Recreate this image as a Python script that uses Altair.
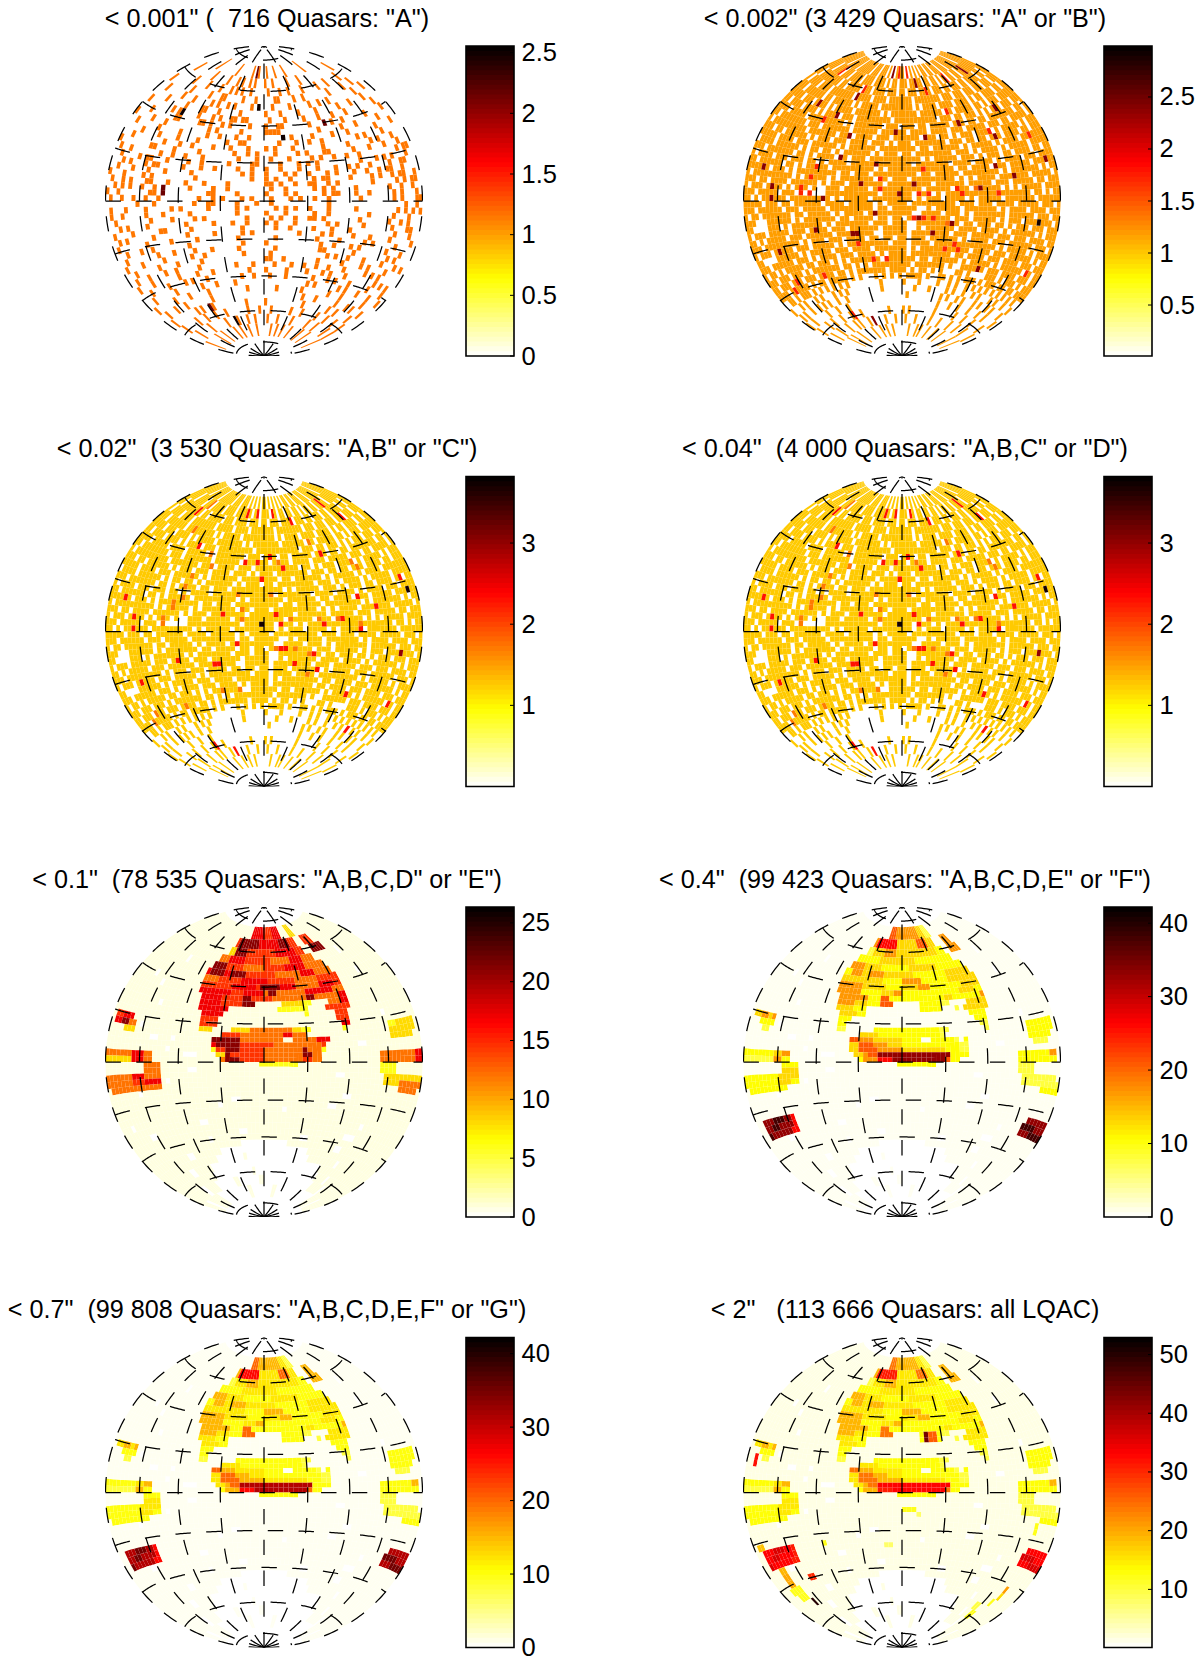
import math
import altair as alt

FONT = "Liberation Sans"
GLOBE_W, GLOBE_H = 318, 310
RX, RY = 158.5, 155.0
BAR_W = 48
BAR_VIEW_W = [234, 90]    # the colour bar's view also holds its labels and the gap to the next globe
N_LON = 72
N_LAT = 22          # rows on each side of the equator
SIN_MAX = 0.97
MERIDIANS = [-180, -135, -90, -45, 0, 45, 90, 135, 180]
PARALLELS = [-80, -60, -40, -20, 0, 20, 40, 60, 80]
# hot colormap, reversed, in even steps
HOT_R = ["#ffffff", "#ffff80", "#ffff00", "#ffaa00", "#ff5500", "#ff0000", "#aa0000", "#550000", "#000000"]

TITLES = [
    '< 0.001" (\u00a0\u00a0716 Quasars: "A")',
    '< 0.002" (3 429 Quasars: "A" or "B")',
    '< 0.02"\u00a0\u00a0(3 530 Quasars: "A,B" or "C")',
    '< 0.04"\u00a0\u00a0(4 000 Quasars: "A,B,C" or "D")',
    '< 0.1"\u00a0\u00a0(78 535 Quasars: "A,B,C,D" or "E")',
    '< 0.4"\u00a0\u00a0(99 423 Quasars: "A,B,C,D,E" or "F")',
    '< 0.7"\u00a0\u00a0(99 808 Quasars: "A,B,C,D,E,F" or "G")',
    '< 2"\u00a0\u00a0\u00a0(113 666 Quasars: all LQAC)',
]
BAR_MIN = [0, 0.01, 0, 0, 0, 0, 0, 0.1]
BAR_MAX = [2.555, 2.99, 3.82, 3.82, 26.35, 42.2, 42.2, 52.9]
BAR_TICKS = [
    [0, 0.5, 1, 1.5, 2, 2.5],
    [0.5, 1, 1.5, 2, 2.5],
    [1, 2, 3],
    [1, 2, 3],
    [0, 5, 10, 15, 20, 25],
    [0, 10, 20, 30, 40],
    [0, 10, 20, 30, 40],
    [10, 20, 30, 40, 50],
]

# Scattered panels: rows from north (row 22) to south (row -22), 9 cells per 45 deg.
P1_MASK = [
"......... ..#...... ....#.... ...#..#.. .#...#... .#....... ..#...... .........",
"....#.... .....#... ...#...#. #..#.#... #..#..... #....#... ......... ....#....",
"......... #.....#.. ..#...#.# .#..#.... .#...#..# ....#.... .#...#... ..#......",
".#....... ..#...... #...##... ..#...#.. ...##.... #..#..... ...#..... #...#....",
"...#..... .#...#... ..#.#..#. #....#... ..#....#. ....#..#. .#....... ..#...#..",
"......#.. ....#.... ##...#... ..#...... #...#.... #....#... ...#...#. ...#.....",
".#....... .#.#..... #...#.#.. ##.##.... .#...#... .#...#... #...#.... .....#...",
"....#.... ...##.... .##.#..#. #....#... #..##.... ..#...#.# ..#...... #.....#..",
"#.....#.. .#....... ....#.#.. ...#..... ####..... ....#.... .#...#... ...#.....",
"..#...... #.....#.. ....#..#. ..#..#... ....#.#.. ..#....#. ..#...... .#....#..",
".....#... .#....#.. ..#...... #..##.... ...#...#. .#..#.... ....#.#.. ..#......",
"...#..... ...#...#. .#....#.. .#...#... #.#...#.. ....#.... .#.....#. #...#....",
"#........ ##....#.. ...#..... ..#..#.#. ..#....#. #...##... ..#...#.. .#...#...",
".#..#.... ...#..#.. #...#.... ...#...#. .#...#... .#.#..#.. #..#..... ....#.##.",
"..#....#. ##...#... .#..#.... .#....##. ...#...#. #.#...... ...#...#. #.#...#..",
"...#.#... #.##..... #...#..#. ...#..#.. #..#...#. ..#...#.. #.#..#... .#..##...",
"..#...#.. .#...#... ..#...... ....#.#.. #...#.#.. #...#.#.. .#..#..#. ##..#....",
"#...#.... #.#...... ...#..... ......#.. #.#..#... .#.##.... #....#.#. .#.##..#.",
".#..#.#.. .##...#.. .#...#... .#....... ##.#..#.. ##..#.#.. .....#... ..#.#.##.",
"..#.#.#.. #..#.#... ..#....#. .#....... .#..#.... .#.#.#... .#....... #..#..#..",
"#..#..... ..##.#... ......##. ...#..... #...#.#.. ...#.##.. .#..#.... .#.#...#.",
".#..#..#. .#..#.... ....#..#. #...#.#.. .#...#.#. .#..#.... ..#...... .#.#...##",
"........# ...#..... ...#..##. ...#...#. .#....... ....#.... ......... ....#..#.",
".#...#... .#.....#. #.....#.. ...#.#... ..#.#.#.. #...#.... .#....... ..#.#.#.#",
".#..#.... .#...#... ..#...... ...#..... #...#.... .#..#.... ....#.... .#...#...",
"..#...... ..#....#. ...#.#... .....#... .#.#..#.. ##.#..... ..#...... #..#.#...",
"...#.#... .#....... .#.....#. ..#..#... #.#...#.. ....#.#.. ...#..... .#...##..",
".#....#.. ....##... ..#...... ....#.... ..#..#... .#...#... #........ ..#...#..",
"..#.#.... ..#...... .#.....#. ....#.#.. .......#. ...#.#... .#...#... .#.....#.",
".#....... #.....#.. ...#..... ...#..... ..#...... ..#....#. ....#.#.. ...#.....",
"...#...#. .#....... .#....... ....#.... #........ ...#..#.. .#.#..... .#...#...",
"..#...... ..#...#.. ..#...#.. ...#..... ..#...... ...##.... ..#...... ..#.#....",
".#....#.. ...#..... .#..#.... ....#.... .#....... .....#.#. .#...#... .#...#.#.",
"...#..... .#....#.. ...#..... ......... ##..#.... ...#..... #....#.#. ...#.....",
"..#...#.. ..#..#... ..#...... ..#...#.. ..#...#.. #..#..#.. .#.....#. #.#......",
".#....#.. .....#... .#...#... .....#... #....#... .#...#.#. ..#...... ..#.#.#..",
"....#.... .#....#.# ...#..... ...#..#.. .#...#... ...#...#. #...#.... .#....#..",
"...#..... ..#...... .#...#... .#....... ......... ..#.#.... ..#.#...# ...#...#.",
".#....... #....#... ..#...... ....#.... ...#..... .#....... #...#.... ...#.....",
"...#...#. ..#...... ..#...... ......... ......... ..#...#.. ....#...# .#...#...",
"..#...... ....#.#.. .#....... ...#..... #........ ...#..... ...#..#.. ...#.....",
"...#..... .#...#... #...#.... ...#...#. ..#...... #...#.... .#...#... #...#....",
".....#... ...#..... ..#....#. ..#..#... .#...#... ..#...... #...#.... .#..#....",
"..#...... .#...#... ...#..#.. .#...#... ...#..#.. #...#.... .#...#... ....#....",
]
P3_MASK = [
"######.## ###.##### ##.###.## #.#.#.#.# #.#.#.#.# .##.##.## #.###.### ###.#####",
"####.#### .###.#### #.####.## ##.#.##.# ##.##.##. ##.##.#.# #.##.##.# #.#######",
"##.###### ###.##.## ###.###.# ###.###.# #.###.### #.###.##. ###.##.## ###.##.##",
"#.####.## ##.###### ##.#####. ####.#### ###.##### ###.###.# ##.###.## #.###.###",
"###.##### ##.##.### ###.#.### ##.###### ###.#.### #.####.## ##.#.##.# ###.##.##",
"#####.### .####.#.# ####.#### ###.#.### ####.#### ##.##.### ##.##.#.# ##.######",
"##.####.# ###.#.### #.###.### ######.## ######### .###.##.# ##.#.#.## #.###.###",
"####.#### #.####.## ###.#.### ####.###. ###.##.## ###.#.#.# #.##.#### ####.##.#",
"##.###### ##.###.## #####.### ###.##### #.####.## ##.###.## ###.###.# #.#####.#",
"#.####### ###.##### ##.###.## ##.###.## ####.###. ##.#.###. ####.#.## ###.#.###",
"###.##.## ####.#.## #.###.### #.###.#.# ##.###### #.###.##. ##.###.## ##.##.###",
"#####.### #.###.### ###.#.### ###.##### ###.##.## ####.#.## ###.#.### #.#######",
".####.### ###.#.##. ##.#.#### ##.#.###. ##.###### ##.###.#. ####.#.## ###.#####",
"###.##### ##.##.#.# ###.##.## #.####### ####.#.## ###.###.# .###.##.# ###.##.##",
"#.####.## #.###.##. #.####.## ###.##### ##.###### #.####.## ##.#.#### .###.####",
"##.###### .##.#.### ##.###### ###.#.### ####.#### ##.##.### #.###.### ##.###.##",
"####.#.## #.#.##### ####.##.# ##.###### ###.##.## ###.##### ###.#.### ####.#.##",
"#.####### ###.#.### ##.#.#### ###.##.## #.####### ##.#.#.## ##.###.## #.#####.#",
"###.##.## ##.###### .#.###.## #####.### ##.###.## ####.#### #.###.### ##.##.###",
"#.###.### #.#.###.# ..###.### ##.#.#### ####.#### #.###.### ###.#.#.# ####.####",
"###.##### .###.#... ..####### ####.###. ##.###.#. ###.##### ##.###### #.##.#.##",
"##.#.#### ##.###### ###.#.### ##.###### ##.#.###. ####.#.## ###.##### ##.######",
"#####.### .##.##### #.####.## ###.#.### #.####### ##.###.## #.####.## ###.###.#",
"###.##### #.###.### ##.###### ###.##.## ###..#.## ###.##### ##.#.#### .####.###",
"#.##.#### ###.##.## ###.#.### #.####### ##..####. ###.#.### ####.#### ##.###.##",
"###...### ###.#.### ####.##.# ###.##.## .#####.## #.###.### ##.#.###. ###.###.#",
"##....### .#.###### #.#.##### ##.###.## #..###### ###.##.## #.##.#.## #.###.###",
"#.###.### ##.###.## ##.###.## ####.#### #..#.#### ##.####.# ###.#.### ###.#.###",
"##.#.#### #.###.### ###.###.# ###..#### #.####### #.###.### ##.###.## #.####.##",
"###.##### ####.#.## #.###.### #.##.##.# #.###.### ###.#.### #.###.### ###.###.#",
"#.###.### ##.###.## ###.#.### ######.## #.####.## ##.###### ###.#.### ##.#.####",
"##....### ###.#.### ##.###.## ##.###### #.#.##### ###.##.## ##.###.## ####.#.##",
"###.##### #.###.#.# ###.###.# ###.#.### #.####### ##.##.### #.###.### #.###.###",
"#.##.#.## ###.##.## #.#.#.### ####..### ###.##.## ####.#.## ###.#.### ###.##.##",
"###.###.# ##.#.#### ###.##.#. #.####### ##.###### #.#..#### ##.###.## ##.###.##",
"##.###.## #.###.#.# #.##.#.## #####.### #.#.##.#. #...##.#. ...###.#. ###.#.###",
"####.#### ##.#.##.# ####.#.#. ..#.#.#.# .####.#.. ##.#.#.## #.#.###.# #.##.####",
"..##.#.## #.#.#.#.# .#.#..... ...#..... #...#.... #..#.#..# .#.#.#.#. #.#.#.#..",
"#...#.#.. .#.#...#. #.#...... ...#..... ...#...#. ...#.#..# ..#.#...# .#..#..#.",
".#.#..#.. #.#.#..#. .#....... ......... .#....... ..#.#..#. #...#.#.. #.#...#..",
"#..#..... .#...#... #........ ......... ......... ..#...#.. #...#...# ..#....#.",
".#....#.. #...#...# ...#..... ....#.... #.#...... ..#...... .#...#... #....#...",
"...#...#. ...#...#. #...#.... ..#...#.. .#...#... ..#...#.. ..#...#.. .#....#..",
"......#.. #...#.... ...#...#. .#..#.... ...#...#. #...#...# ...#..... .#...#...",
]
P1_LEVELS = {"#": 1.15, "d": 2.15, "k": 2.5}
P2_LEVELS = {"#": 1.18, "o": 1.4, "r": 1.72, "d": 2.4, "k": 2.9}
P3_LEVELS = {"#": 1.25, "o": 1.7, "r": 2.3, "d": 3.0, "k": 3.7}
# (row, cell's western longitude, level) of the cells that stand out.
P1_HOT = [(3, -110, "d"), (2, -110, "d"), (18, -10, "k"), (13, 20, "k"), (15, 75, "d"),
          (16, -115, "k"), (22, -20, "d"), (-19, -90, "d"), (-21, -60, "k")]
P2_HOT = [(-4, 150, "k"), (7, 165, "d"), (2, -5, "d"), (-3, -30, "d"), (-7, -55, "d"), (-7, -50, "d"),
          (-6, -95, "d"), (-9, -145, "d"), (1, -145, "d"), (3, -145, "d"), (6, -158, "d"), (2, -110, "r"),
          (3, -110, "r"), (2, -100, "r"), (5, -100, "r"), (7, -95, "r"), (1, -85, "d"), (16, -90, "d"),
          (13, -65, "d"), (9, -70, "d"), (14, -10, "d"), (13, 25, "d"), (8, -30, "d"), (7, 20, "r"),
          (5, -25, "r"), (4, -45, "d"), (3, -25, "r"), (4, 10, "d"), (2, 15, "r"), (2, 25, "r"), (3, 55, "r"),
          (2, 60, "r"), (3, 75, "o"), (3, 80, "d"), (2, 100, "r"), (5, 120, "d"), (7, 100, "d"), (-4, 10, "r"),
          (-4, 15, "d"), (-4, 20, "r"), (-4, 30, "r"), (-7, 30, "d"), (-5, 45, "o"), (-5, 50, "d"),
          (-9, 55, "r"), (-10, 45, "r"), (-10, 60, "r"), (-9, -50, "r"), (-12, -35, "r"), (-12, -20, "r"),
          (-13, 90, "d"), (-12, 155, "r"), (-14, -100, "r"), (-15, -150, "r"), (-14, -140, "r"),
          (-20, -90, "r"), (-21, -60, "d"), (19, -75, "d"), (20, -70, "r"), (22, -25, "d"), (22, -10, "r"),
          (22, 10, "r"), (21, 25, "d"), (20, 40, "r"), (17, 60, "r"), (15, 70, "d"), (13, 105, "r"),
          (12, 110, "d"), (11, 155, "r"), (16, 130, "d"), (21, 140, "d"), (21, 90, "r"), (21, -140, "r"),
          (17, -125, "d"), (15, -105, "r")]
P3_HOT = [(2, -5, "k"), (-3, -30, "r"), (-7, -55, "r"), (-7, -50, "r"), (-6, -95, "r"), (-9, -145, "r"),
          (3, -145, "r"), (1, -145, "r"), (6, -158, "r"), (2, -110, "o"), (3, -110, "o"), (5, -100, "o"),
          (6, -100, "o"), (7, -90, "o"), (9, -88, "o"), (11, -85, "o"), (16, -90, "r"), (13, -65, "o"),
          (14, -10, "r"), (13, 20, "r"), (11, -5, "r"), (8, 5, "o"), (8, -30, "o"), (5, -25, "o"), (4, -45, "r"),
          (3, -25, "o"), (4, 10, "r"), (2, 15, "r"), (3, 25, "o"), (3, 55, "o"), (2, 60, "r"), (3, 75, "o"),
          (3, 80, "r"), (1, 100, "r"), (2, 100, "o"), (5, 120, "r"), (7, 100, "r"), (-4, 10, "o"), (-4, 15, "r"),
          (-4, 20, "r"), (-4, 30, "o"), (-7, 30, "r"), (-5, 45, "o"), (-5, 50, "r"), (-8, 55, "r"), (-9, 45, "o"),
          (-12, -30, "o"), (-12, -50, "o"), (-12, 95, "r"), (-12, 155, "r"), (-17, 120, "r"), (-14, -100, "o"),
          (-14, -145, "o"), (-15, -155, "o"), (-20, -90, "r"), (-21, -60, "r"), (15, -70, "o"), (14, -25, "r"),
          (15, 5, "r"), (14, 15, "o"), (17, 60, "o"), (15, 70, "r"), (13, 105, "o"), (12, 110, "o"),
          (-4, 150, "d"), (7, 165, "k"), (9, 160, "r"), (21, -35, "r"), (21, -15, "r"), (21, 15, "r"),
          (20, 45, "r"), (21, 125, "r"), (19, 135, "r"), (21, -120, "o"), (20, -130, "r"), (18, -110, "o")]

# Survey panels: "longitude:level" break points, row by row; a row starts at -180 with level "a".
P5_ROWS = {
    22: "-30:r 0:p 20:r 40:a 60:g 75:a",
    21: "-55:p -50:d -12:r 30:d 50:p 65:a 80:p 100:a",
    20: "-62:g -50:d -30:p 20:r 55:p 72:a 85:d 108:a",
    19: "-72:o -55:r -30:p 10:o 40:r 60:o 80:a",
    18: "-77:d -55:p -30:o 0:p 30:r 60:o 92:a",
    17: "-80:r -75:d -55:r -45:d -25:p 15:o 50:r 70:o 94:a",
    16: "-81:o -60:p -30:r 5:p 40:o 70:p 100:a",
    15: "-79:p -40:r -10:p -3:d 22:r 40:o 70:r 90:p 100:a",
    14: "-79:r -40:p -25:r 0:o 5:d 15:o 50:r 85:o 102:a",
    13: "-77:r -50:p -26:d -14:p 10:o 50:d 60:o 90:r 101:a",
    12: "-76:r -50:p -26:d -12:a 20:g 45:y 56:a 75:o 88:r 101:a",
    11: "-74:r -40:a 15:y 50:a 72:p 98:a",
    10: "-71:r -47:a 45:y 50:a 78:p 96:a",
    9: "-71:p -50:a 82:p 96:a",
    8: "-175:p -165:r -150:a -70:p -50:a 85:r 95:a",
    7: "-175:r -165:d -155:o -145:a -70:g -55:a -33:g -15:o 30:g 42:y 50:a 85:y 92:a 140:y 150:g 176:a",
    6: "-160:g -145:a -46:p -27:o 20:r 30:o 47:a 140:g 176:a",
    5: "-57:d -26:o 18:a 32:o 56:r 70:a 140:g 170:a",
    4: "-57:r -50:d -23:p 10:o 60:p 66:a",
    3: "-57:y -49:p -42:d -23:p 0:o 40:d 46:o 62:y 66:a",
    2: "-180:o -143:r -131:o -119:a -50:g -42:d -33:p 0:o 42:d 48:o 62:a 127:o 168:r 178:a",
    1: "-180:g -143:r -131:o -119:a -45:o -38:d -25:p 0:o 40:p 50:o 62:a 127:o 168:r 178:a",
    -1: "-131:o -112:a -7:y 37:a 127:y 145:a",
    -2: "-131:o -112:a 127:y 145:a",
    -3: "-180:o -147:r -130:o -112:a 130:g 178:a",
    -4: "-180:o -147:p -130:r -112:a 130:g 150:o 178:a",
    -5: "-175:o -112:a 150:o 175:a",
}
P5_LEVELS = {"a": 0.8, "y": 6, "g": 8, "o": 12, "p": 14.5, "r": 17, "d": 21, "k": 24}

P6_ROWS = {
    22: "-30:p -15:o 40:g 55:y 70:a",
    21: "-55:o -50:r -12:g 30:p 50:g 65:a 85:o 100:a",
    20: "-62:y -50:g -30:o -10:g 60:Y 75:a 85:o 105:a",
    19: "-72:Y -35:g 20:Y 78:y 82:a",
    18: "-77:o -55:g -30:Y 10:g 50:Y 92:a",
    17: "-80:Y -70:o -55:g -45:o -25:g 15:Y 60:g 94:a",
    16: "-81:g -25:Y 0:o 25:Y 60:g 100:a",
    15: "-79:o -50:g -20:Y 0:g 20:o 35:Y 75:g 100:a",
    14: "-79:o -50:Y -25:g -10:o 0:Y 70:g 90:Y 102:a",
    13: "-77:o -40:Y -25:p -15:Y 50:g 60:Y 95:o 101:a",
    12: "-76:o -55:g -40:Y -25:p -12:a 18:Y 45:y 55:a 75:g 100:a",
    11: "-74:g -55:Y -40:a 18:Y 45:a 60:y 65:a 72:g 98:a",
    10: "-71:g -50:Y -40:a 75:Y 96:a",
    9: "-71:Y -55:a 82:Y 96:a",
    8: "-175:g -165:o -155:g -150:o -145:a -71:Y -58:a 85:y 95:a",
    7: "-165:Y -145:a -70:y -60:a -30:Y 40:y 48:a 88:y 95:a 140:Y 176:a",
    6: "-160:y -150:a -46:g -25:Y 40:y 47:a 140:Y 176:a",
    5: "-57:p -45:o -30:g 0:Y 18:a 32:Y 55:y 62:a 65:Y 72:a 140:Y 170:a",
    4: "-57:g -45:p -30:o -15:g 0:Y 62:y 68:a 145:y 165:a",
    3: "-57:g -45:p -25:o 0:g 45:Y 62:y 68:a",
    2: "-180:Y -140:g -130:o -119:a -50:g -42:o -33:p -25:d 48:r 50:Y 68:a 127:Y 165:o 175:a",
    1: "-180:y -140:o -130:Y -119:a -45:Y -38:o -25:r -10:d 45:p 50:Y 60:a 127:Y 175:a",
    -1: "-131:Y -112:a -7:Y 37:a 127:y 145:a",
    -2: "-131:g -112:a 127:y 145:a",
    -3: "-180:Y -135:g -112:a 130:y 175:a",
    -4: "-180:Y -135:g -120:Y -112:a 130:y 178:a",
    -5: "-175:Y -125:a 155:Y 178:a",
    -10: "-172:d -155:k -140:d -130:r -125:a 150:d 178:a",
    -11: "-172:d -160:k -150:d -130:r -125:a 145:k 165:d 178:a",
    -12: "-172:k -165:d -135:r -125:a 145:d 160:k 178:a",
}
P6_LEVELS = {"a": 0.6, "y": 8, "Y": 10.6, "g": 13, "o": 17, "p": 21, "r": 26, "d": 33, "k": 38}
P7_LEVELS = {"a": 0.6, "y": 8, "Y": 10, "g": 12, "o": 15, "p": 20, "r": 26, "d": 31, "k": 35}
P8_LEVELS = {"a": 1.5, "y": 10, "Y": 13, "g": 15, "o": 19, "p": 24, "r": 31, "d": 33, "k": 36}
# (row, first longitude, last longitude, value) patches seen only in the last panel.
P8_EXTRA = [(11, 25, 30, 44), (11, 30, 40, 26), (12, 25, 30, 44), (12, 30, 40, 26), (-15, -125, -115, 30),
            (-14, -160, -150, 20), (-13, -160, -150, 19), (-15, -160, -150, 20), (-16, -165, -145, 12),
            (-17, -160, -145, 12), (-18, -145, -140, 50), (-16, 150, 155, 21), (-17, 150, 155, 16),
            (-18, 145, 150, 12), (-6, 150, 155, 12), (-7, 150, 155, 12), (6, -170, -165, 32), (5, -170, -165, 32),
            (-10, -90, -85, 12), (-4, 0, 15, 12), (-5, 15, 20, 8), (-11, -20, -10, 8), (-9, -175, -165, 18),
            (-19, 125, 135, 10), (-20, 130, 140, 12)]
# Cells of the pale background that stay empty.
PALE_HOLES = [(-16, -30, 30), (-17, -60, 60), (-18, -70, -30), (-18, -25, 65), (-19, -85, 90), (-20, -90, -20),
              (-20, -15, 95), (-21, -100, -60), (-21, -50, -10), (-21, 0, 100), (-22, -120, -40), (-22, -30, 20),
              (-22, 30, 130), (7, -140, -135), (5, -125, -115), (5, -100, -95), (2, -85, -70), (-4, -105, -100),
              (-6, -140, -135), (-8, -35, -25), (-9, -50, -45), (-13, -145, -135), (-11, -165, -160),
              (-14, 100, 115), (-12, 115, 120), (-7, 85, 95), (15, -150, -145), (11, -125, -120), (9, 135, 140),
              (-15, -70, -65), (-15, 45, 55), (-14, -30, -20), (-16, 95, 105), (-17, -110, -100), (-18, 110, 115),
              (-12, -75, -65), (-9, 70, 80), (-10, 20, 25), (-3, 75, 85), (-2, -80, -70), (14, -135, -130),
              (18, -120, -115), (19, 125, 130), (16, 130, 135), (4, 100, 110), (3, -105, -100), (-19, -125, -115),
              (-20, 115, 120), (-21, -135, -125), (-21, 125, 130), (-22, -165, -155), (-22, 150, 155)]


def hammer(lon, lat):
    lam, phi = math.radians(lon) / 2, math.radians(lat)
    d = math.sqrt(1 + math.cos(phi) * math.cos(lam))
    return [RX * math.cos(phi) * math.sin(lam) / d, RY * math.sin(phi) / d]


def cell_feature(row, col, value):
    s0 = SIN_MAX * (abs(row) - 1) / N_LAT
    s1 = SIN_MAX * abs(row) / N_LAT
    sign = 1 if row > 0 else -1
    la0, la1 = sign * math.degrees(math.asin(s0)), sign * math.degrees(math.asin(s1))
    lo0 = -180 + col * 360 / N_LON
    lo1 = lo0 + 360 / N_LON
    ring = [hammer(lo0, la0), hammer(lo1, la0), hammer(lo1, la1), hammer(lo0, la1), hammer(lo0, la0)]
    return {"type": "Feature", "geometry": {"type": "Polygon", "coordinates": [ring]}, "properties": {"v": value}}


def row_numbers():
    return list(range(N_LAT, 0, -1)) + list(range(-1, -N_LAT - 1, -1))


def col_of(lon):
    return int((lon + 180) // 5)


def mask_cells(mask, levels, hot):
    grid = {}
    for row, text in zip(row_numbers(), mask):
        chars = text.replace(" ", "")
        for c, ch in enumerate(chars[:N_LON]):
            if ch != ".":
                grid[(row, c)] = levels[ch]
    for row, lon, lev in hot:
        grid[(row, col_of(lon))] = levels[lev]
    return [cell_feature(r, c, v) for (r, c), v in grid.items()]


def survey_cells(rows, levels, extra=()):
    grid = {}
    for row in row_numbers():
        marks = [(-180, "a")] + [(int(t.split(":")[0]), t.split(":")[1]) for t in rows.get(row, "").split()]
        for c in range(N_LON):
            mid = -180 + 5 * c + 2.5
            lev = "a"
            for lon, name in marks:
                if mid >= lon:
                    lev = name
            grid[(row, c)] = (lev, levels[lev])
    for row, lo, hi in PALE_HOLES:
        for c in range(col_of(lo), col_of(hi)):
            if (row, c) in grid and grid[(row, c)][0] == "a":
                del grid[(row, c)]
    out = {k: v[1] for k, v in grid.items()}
    for row, lo, hi, val in extra:
        for c in range(col_of(lo), col_of(hi)):
            out[(row, c)] = val
    return [cell_feature(r, c, v) for (r, c), v in out.items()]


def grid_features():
    feats = []
    for lon in MERIDIANS:
        pts = [hammer(lon, -90 + i) for i in range(181)]
        feats.append({"type": "Feature", "geometry": {"type": "LineString", "coordinates": pts}, "properties": {}})
    for lat in PARALLELS:
        pts = [hammer(-180 + 2 * i, lat) for i in range(181)]
        feats.append({"type": "Feature", "geometry": {"type": "LineString", "coordinates": pts}, "properties": {}})
    return feats


def color_scale(mn, mx):
    return alt.Scale(domain=[mn, mx], range=HOT_R, interpolate="rgb", clamp=True, nice=False, zero=False)


def globe(i, cells):
    proj = dict(type="identity", reflectY=True, scale=1, translate=[GLOBE_W / 2, GLOBE_H / 2])
    fill = alt.Chart(alt.Data(values=cells)).mark_geoshape(strokeWidth=0).encode(
        color=alt.Color("properties.v:Q", scale=color_scale(BAR_MIN[i], BAR_MAX[i]), legend=None)
    ).project(**proj)
    lines = alt.Chart(alt.Data(values=grid_features())).mark_geoshape(
        filled=False, stroke="black", strokeWidth=1.25, strokeDash=[15.4, 15.4]
    ).project(**proj)
    return alt.layer(fill, lines).properties(
        width=GLOBE_W, height=GLOBE_H,
        title=alt.TitleParams(TITLES[i], font=FONT, fontSize=25.2, fontWeight="normal", color="black",
                              anchor="middle", offset=14, dx=3),
    )


def colorbar(i):
    mn, mx = BAR_MIN[i], BAR_MAX[i]
    view_w = BAR_VIEW_W[i % 2]
    steps = [{"lo": mn + (mx - mn) * k / 64, "hi": mn + (mx - mn) * min(k + 1.3, 64) / 64,
              "mid": mn + (mx - mn) * (k + 0.5) / 64}
             for k in range(64)]
    yscale = alt.Scale(domain=[mn, mx], nice=False, zero=False)
    axis = alt.Axis(orient="right", offset=BAR_W - view_w, values=BAR_TICKS[i], title=None,
                    domain=False, ticks=False, grid=False,
                    labelFont=FONT, labelFontSize=25.5, labelColor="black", labelPadding=7,
                    labelOverlap=False, format=".1~f")
    rects = alt.Chart(alt.Data(values=steps)).mark_rect(strokeWidth=0).encode(
        x=alt.value(0), x2=alt.value(BAR_W),
        y=alt.Y("lo:Q", scale=yscale, axis=axis),
        y2="hi:Q",
        color=alt.Color("mid:Q", scale=color_scale(mn, mx), legend=None),
    )
    ticks = alt.Chart(alt.Data(values=[{"t": t} for t in BAR_TICKS[i]])).mark_rule(color="black", strokeWidth=1).encode(
        x=alt.value(BAR_W - 4), x2=alt.value(BAR_W), y=alt.Y("t:Q", scale=yscale, axis=axis)
    )
    box = alt.Chart(alt.Data(values=[{"a": 0}])).mark_rect(fill="transparent", stroke="black", strokeWidth=1.6).encode(
        x=alt.value(0), x2=alt.value(BAR_W), y=alt.value(0), y2=alt.value(GLOBE_H)
    )
    return alt.layer(rects, ticks, box).properties(width=view_w, height=GLOBE_H)


PANEL_CELLS = [
    mask_cells(P1_MASK, P1_LEVELS, P1_HOT),
    mask_cells(P3_MASK, P2_LEVELS, P2_HOT),
    mask_cells(P3_MASK, P3_LEVELS, P3_HOT),
    mask_cells(P3_MASK, P3_LEVELS, P3_HOT),
    survey_cells(P5_ROWS, P5_LEVELS),
    survey_cells(P6_ROWS, P6_LEVELS),
    survey_cells(P6_ROWS, P7_LEVELS),
    survey_cells(P6_ROWS, P8_LEVELS, P8_EXTRA),
]

views = []
for i in range(8):
    views.append(globe(i, PANEL_CELLS[i]))
    views.append(colorbar(i))

chart = alt.concat(*views, columns=4, spacing=alt.RowColnumber(row=120.5, column=43), bounds="flush",
                   align="each").resolve_scale(
    color="independent", y="independent", x="independent"
).properties(
    padding={"left": -1, "top": -2, "right": 0, "bottom": 6}, background="white"
).configure_view(stroke=None)

chart.save("out.html", embed_options={"renderer": "svg", "actions": False})
